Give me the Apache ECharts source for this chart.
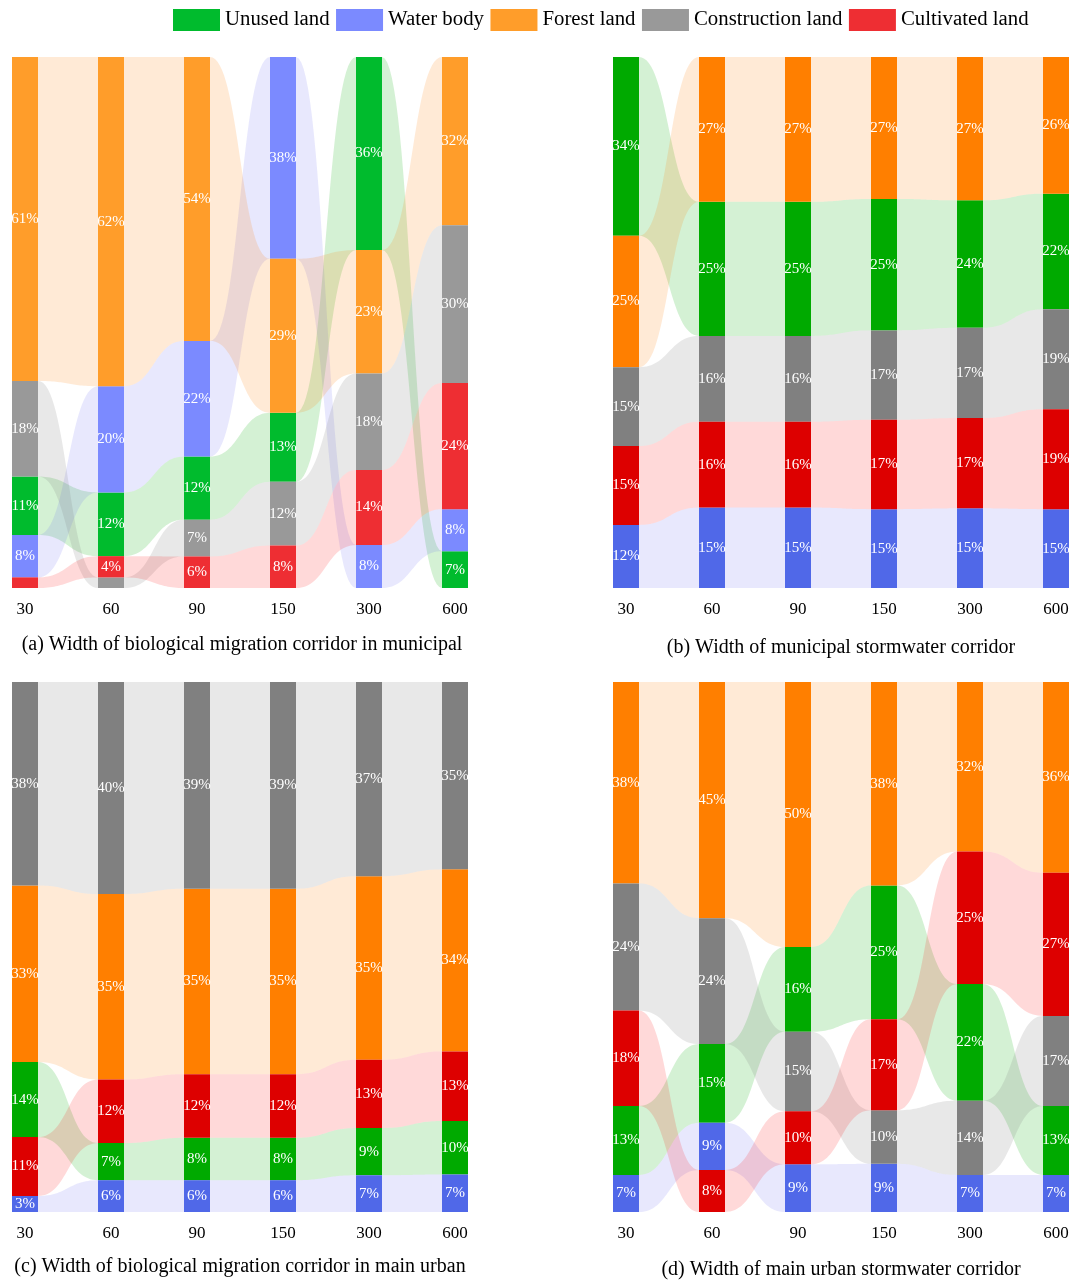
<!DOCTYPE html>
<html>
<head>
<meta charset="utf-8">
<script src="https://cdn.jsdelivr.net/npm/echarts@6/dist/echarts.min.js"></script>
<style>
  html, body { margin: 0; padding: 0; background: #fff; }
  #chart { width: 1076px; height: 1281px; }
</style>
</head>
<body>
<div id="chart"></div>
<script>
// Corridor widths (m) shown on each x axis
const widths = ['30', '60', '90', '150', '300', '600'];
const landTypes = ['Unused land', 'Water body', 'Forest land', 'Construction land', 'Cultivated land'];

// Share of each land type (%) per corridor width
// (a) biological migration corridor, municipal
const unusedA       = [11, 12, 12, 13, 36, 7];
const waterA        = [8, 20, 22, 38, 8, 8];
const forestA       = [61, 62, 54, 29, 23, 32];
const constructionA = [18, 2, 7, 12, 18, 30];
const cultivatedA   = [2, 4, 6, 8, 14, 24];

// (b) municipal stormwater corridor
const unusedB       = [34, 25, 25, 25, 24, 22];
const waterB        = [12, 15, 15, 15, 15, 15];
const forestB       = [25, 27, 27, 27, 27, 26];
const constructionB = [15, 16, 16, 17, 17, 19];
const cultivatedB   = [15, 16, 16, 17, 17, 19];

// (c) biological migration corridor, main urban
const unusedC       = [14, 7, 8, 8, 9, 10];
const waterC        = [3, 6, 6, 6, 7, 7];
const forestC       = [33, 35, 35, 35, 35, 34];
const constructionC = [38, 40, 39, 39, 37, 35];
const cultivatedC   = [11, 12, 12, 12, 13, 13];

// (d) main urban stormwater corridor
const unusedD       = [13, 15, 16, 25, 22, 13];
const waterD        = [7, 9, 9, 9, 7, 7];
const forestD       = [38, 45, 50, 38, 32, 36];
const constructionD = [24, 24, 15, 10, 14, 17];
const cultivatedD   = [18, 8, 10, 17, 25, 27];

const captions = [
  '(a) Width of biological migration corridor in municipal',
  '(b) Width of municipal stormwater corridor',
  '(c) Width of biological migration corridor in main urban',
  '(d) Width of main urban stormwater corridor'
];

// Stacking order for equal shares (top to bottom)
const tieOrder = ['Forest land', 'Construction land', 'Cultivated land', 'Unused land', 'Water body'];

const lightPalette = {
  'Unused land': '#00BB2D', 'Water body': '#7B8AFF', 'Forest land': '#FF9D2A',
  'Construction land': '#999999', 'Cultivated land': '#EE2E33'
};
const darkPalette = {
  'Unused land': '#00AA00', 'Water body': '#5068E8', 'Forest land': '#FF7F00',
  'Construction land': '#808080', 'Cultivated land': '#DD0000'
};
// Translucent ribbon fills linking the same land type between widths
const flowPalette = {
  'Unused land': 'rgba(0,170,0,0.17)', 'Water body': 'rgba(100,100,240,0.15)',
  'Forest land': 'rgba(255,127,0,0.16)', 'Construction land': 'rgba(128,128,128,0.18)',
  'Cultivated land': 'rgba(255,0,0,0.15)'
};

const panels = [
  { shares: [unusedA, waterA, forestA, constructionA, cultivatedA], palette: lightPalette,
    left: 25, top: 57, height: 531, capX: 242, capY: 645 },
  { shares: [unusedB, waterB, forestB, constructionB, cultivatedB], palette: darkPalette,
    left: 626, top: 57, height: 531, capX: 841, capY: 648 },
  { shares: [unusedC, waterC, forestC, constructionC, cultivatedC], palette: darkPalette,
    left: 25, top: 682, height: 530, capX: 240, capY: 1267 },
  { shares: [unusedD, waterD, forestD, constructionD, cultivatedD], palette: darkPalette,
    left: 626, top: 682, height: 530, capX: 841, capY: 1270 }
];

const BAR_W = 26;
const SERIF = 'Liberation Serif';

// Stack each column from the top, largest share first; returns [start, end] in % of column
function stackPositions(shares) {
  const pos = landTypes.map(() => []);
  widths.forEach((w, i) => {
    const items = landTypes.map((t, k) => ({ k, t, v: shares[k][i] }));
    items.sort((p, q) => (q.v - p.v) || (tieOrder.indexOf(p.t) - tieOrder.indexOf(q.t)));
    const total = items.reduce((s, it) => s + it.v, 0);
    let cum = 0;
    items.forEach(it => {
      const start = cum / total * 100;
      cum += it.v;
      pos[it.k][i] = [start, cum / total * 100];
    });
  });
  return pos;
}

function renderBar(params, api) {
  const i = api.value(0);
  const top = api.coord([i, api.value(1)]);
  const bot = api.coord([i, api.value(2)]);
  const v = api.value(3);
  return {
    type: 'group',
    children: [
      { type: 'rect',
        shape: { x: top[0] - BAR_W / 2, y: top[1], width: BAR_W, height: bot[1] - top[1] },
        style: { fill: api.visual('color') } },
      { type: 'text',
        style: { text: v >= 3 ? v + '%' : '', x: top[0], y: (top[1] + bot[1]) / 2,
                 fill: '#ffffff', fontSize: 15, fontFamily: SERIF,
                 align: 'center', verticalAlign: 'middle' } }
    ]
  };
}

function renderFlow(params, api) {
  const i = api.value(0);
  const a0 = api.coord([i, api.value(1)]);
  const a1 = api.coord([i, api.value(2)]);
  const b0 = api.coord([i + 1, api.value(3)]);
  const b1 = api.coord([i + 1, api.value(4)]);
  const x0 = a0[0] + BAR_W / 2;
  const x1 = b0[0] - BAR_W / 2;
  const xm = (x0 + x1) / 2;
  const N = 32;
  const bez = (p0, p1, p2, p3, t) => {
    const u = 1 - t;
    return u * u * u * p0 + 3 * u * u * t * p1 + 3 * u * t * t * p2 + t * t * t * p3;
  };
  const pts = [];
  for (let s = 0; s <= N; s++) {
    const t = s / N;
    pts.push([bez(x0, xm, xm, x1, t), bez(a0[1], a0[1], b0[1], b0[1], t)]);
  }
  for (let s = N; s >= 0; s--) {
    const t = s / N;
    pts.push([bez(x0, xm, xm, x1, t), bez(a1[1], a1[1], b1[1], b1[1], t)]);
  }
  return { type: 'polygon', shape: { points: pts }, style: { fill: api.visual('color') } };
}

const grid = [], xAxis = [], yAxis = [], barSeries = [], flowSeries = [], graphic = [];

panels.forEach((p, pi) => {
  grid.push({ left: p.left, top: p.top, width: 430, height: p.height, containLabel: false });
  xAxis.push({
    gridIndex: pi, type: 'category', data: widths, boundaryGap: false,
    axisLine: { show: false }, axisTick: { show: false }, splitLine: { show: false },
    axisLabel: { color: '#000', fontSize: 17, fontFamily: SERIF, margin: 13 }
  });
  yAxis.push({ gridIndex: pi, type: 'value', min: 0, max: 100, inverse: true, show: false });

  const pos = stackPositions(p.shares);
  landTypes.forEach((t, k) => {
    barSeries.push({
      type: 'custom', name: t, xAxisIndex: pi, yAxisIndex: pi, z: 3,
      itemStyle: { color: p.palette[t] },
      renderItem: renderBar,
      encode: { x: 0, y: [1, 2] },
      data: widths.map((w, i) => [i, pos[k][i][0], pos[k][i][1], p.shares[k][i]]),
      silent: true
    });
    const flows = [];
    for (let i = 0; i < widths.length - 1; i++) {
      flows.push([i, pos[k][i][0], pos[k][i][1], pos[k][i + 1][0], pos[k][i + 1][1]]);
    }
    flowSeries.push({
      type: 'custom', name: t, xAxisIndex: pi, yAxisIndex: pi, z: 1,
      itemStyle: { color: flowPalette[t] },
      renderItem: renderFlow,
      encode: { x: 0, y: [1, 2, 3, 4] },
      data: flows,
      silent: true
    });
  });

  graphic.push({
    type: 'text', x: p.capX, y: p.capY,
    style: { text: captions[pi], fill: '#000', fontSize: 20, fontFamily: SERIF,
             align: 'center', verticalAlign: 'middle' }
  });
});

const chart = echarts.init(document.getElementById('chart'), null, { renderer: 'canvas' });
chart.setOption({
  backgroundColor: '#ffffff',
  animation: false,
  legend: {
    data: landTypes, left: 173, top: 9, padding: 0,
    itemWidth: 47, itemHeight: 22, itemGap: 6.5, icon: 'rect',
    selectedMode: false,
    textStyle: { color: '#000', fontSize: 20.8, fontFamily: SERIF }
  },
  grid, xAxis, yAxis,
  series: barSeries.concat(flowSeries),
  graphic
});
</script>
</body>
</html>
